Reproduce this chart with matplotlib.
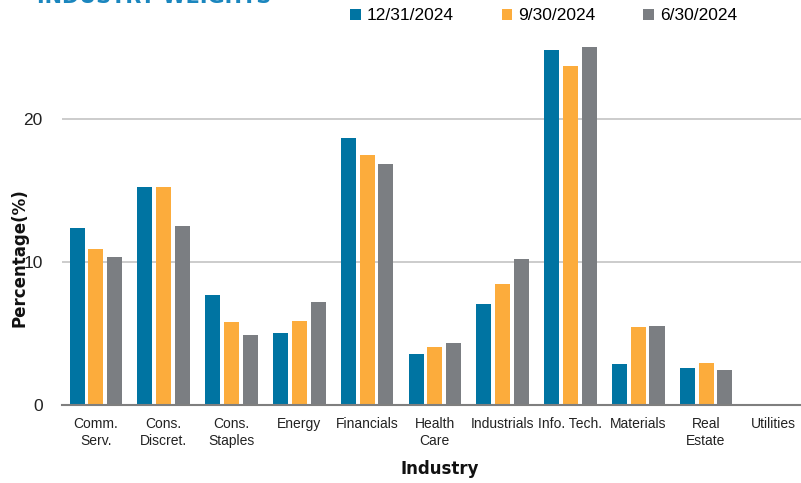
import numpy as np
import matplotlib.pyplot as plt

# Industry weights by quarter end (percent of portfolio)
industries = ["Comm.\nServ.", "Cons.\nDiscret.", "Cons.\nStaples", "Energy", "Financials",
              "Health\nCare", "Industrials", "Info. Tech.", "Materials", "Real\nEstate", "Utilities"]
w_dec24 = [12.36, 15.27, 7.67, 5.06, 18.67, 3.54, 7.06, 24.80, 2.87, 2.56, 0.0]
w_sep24 = [10.89, 15.27, 5.78, 5.85, 17.48, 4.06, 8.46, 23.70, 5.48, 2.96, 0.0]
w_jun24 = [10.33, 12.50, 4.87, 7.23, 16.85, 4.31, 10.19, 25.06, 5.52, 2.42, 0.0]
series_labels = ["12/31/2024", "9/30/2024", "6/30/2024"]
yticks = [0, 10, 20]

colors = ["#0074A2", "#FCAC3C", "#7B7E82"]

fig = plt.figure(figsize=(8.01, 4.83), dpi=100)
ax = fig.add_axes([0.0774, 0.1615, 0.931, 0.755])

x = np.arange(len(industries))
pitch = 0.277
width = 0.222
for i, (vals, lab, c) in enumerate(zip([w_dec24, w_sep24, w_jun24], series_labels, colors)):
    ax.bar(x + (i - 1) * pitch, vals, width=width, color=c, label=lab, zorder=3)

ax.set_xlim(-0.5, len(industries) - 0.5)
ax.set_ylim(0, 25.5)
ax.set_yticks(yticks)
ax.set_xticks(x)
ax.set_xticklabels(industries, fontsize=10, family="Liberation Sans", color="#222222",
                   linespacing=1.2)
ax.tick_params(axis="y", length=0, pad=14, labelsize=12.5, labelcolor="#222222")
ax.tick_params(axis="x", length=0, pad=9)
for t in ax.get_yticklabels():
    t.set_family("Liberation Sans")

ax.yaxis.grid(True, color="#C8C8C8", linewidth=1.3, zorder=0)
for s in ["top", "right", "left"]:
    ax.spines[s].set_visible(False)
ax.spines["bottom"].set_color("#7F7F7F")
ax.spines["bottom"].set_linewidth(1.5)
ax.spines["bottom"].set_zorder(4)

ax.set_ylabel("Percentage(%)", fontsize=12, fontweight="bold", family="DejaVu Sans",
              color="#111111")
ax.yaxis.set_label_coords(-0.045, 0.405)
ax.set_xlabel("Industry", fontsize=12, fontweight="bold", family="DejaVu Sans",
              color="#111111", va="center")
ax.xaxis.set_label_coords(0.507, -0.175)

leg = fig.legend(loc="center left", bbox_to_anchor=(0.418, 0.967), ncol=3, frameon=False,
                 prop={"family": "Liberation Sans", "size": 12.5},
                 handlelength=0.6, handleheight=0.6, handletextpad=0.35, columnspacing=2.75)

# Heading sits mostly above the top edge of the canvas
fig.text(0.046, 0.994, "INDUSTRY WEIGHTS", fontsize=15, fontweight="bold",
         family="DejaVu Sans", color="#1B86BE", va="baseline")

fig.savefig("out.png", dpi=100)
